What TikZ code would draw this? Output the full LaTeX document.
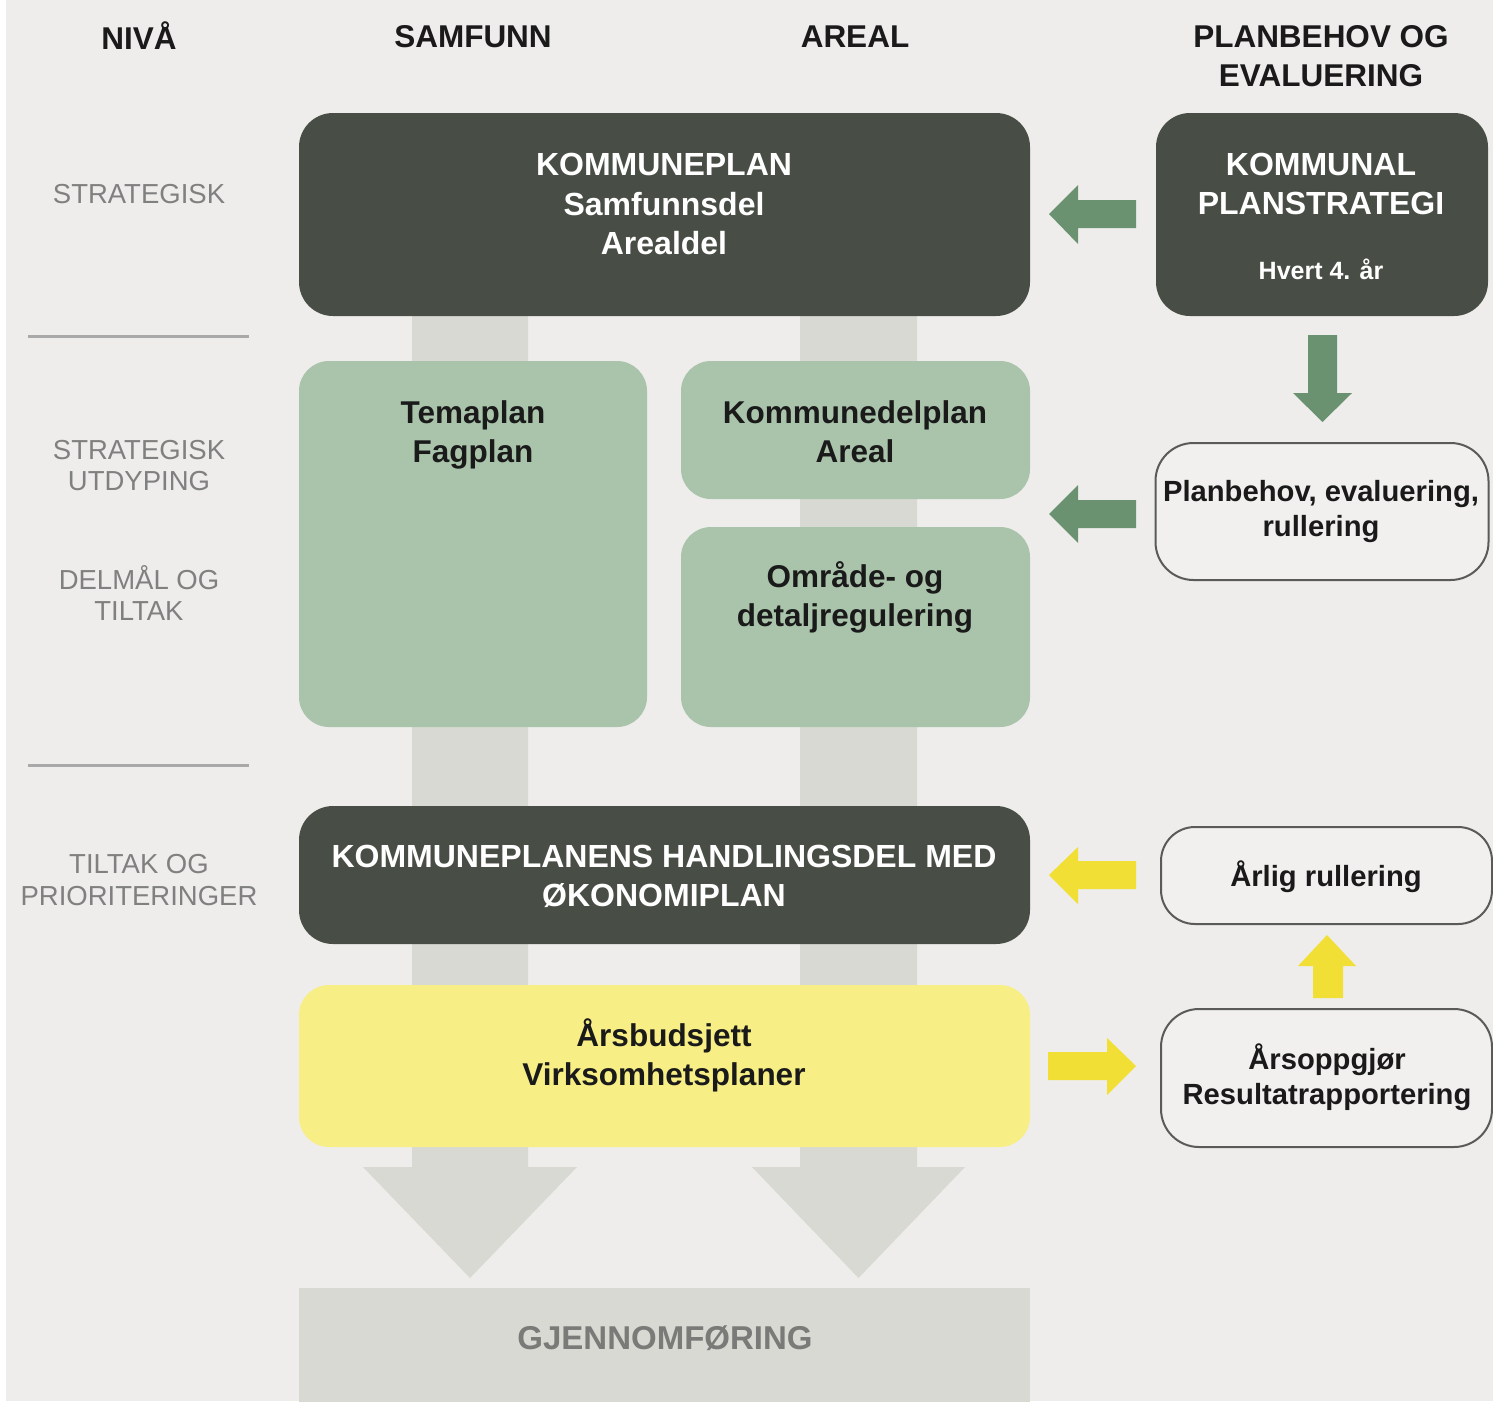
\documentclass[tikz,border=0pt]{standalone}
\usepackage{fontspec}
\setmainfont{Liberation Sans}
\definecolor{cbg}{HTML}{EEEDEB}
\definecolor{cdark}{HTML}{484E45}
\definecolor{clight}{HTML}{AAC4AB}
\definecolor{cbar}{HTML}{D8D9D2}
\definecolor{cyelbox}{HTML}{F7EE85}
\definecolor{cyelarr}{HTML}{F2DF35}
\definecolor{cgrnarr}{HTML}{6A9271}
\definecolor{clvl}{HTML}{808080}
\definecolor{cline}{HTML}{A9A9A9}
\definecolor{coutline}{HTML}{5A5A58}
\definecolor{cgjtxt}{HTML}{7A7A78}
\definecolor{ctxt}{HTML}{1A1A1A}
\tikzset{
  boxbase/.style={rectangle, inner sep=0pt, outer sep=0pt},
  darkbox/.style={boxbase, fill=cdark, rounded corners=34},
  lightbox/.style={boxbase, fill=clight, rounded corners=30},
  yelbox/.style={boxbase, fill=cyelbox, rounded corners=30},
  outbox/.style={boxbase, fill=cbg!85!white, draw=coutline, line width=2pt, rounded corners=38},
  hdr/.style={font=\fontsize{31.5}{39}\selectfont\bfseries, text=ctxt, align=center, inner sep=0pt},
  lvl/.style={font=\fontsize{27.5}{31.5}\selectfont, text=clvl, align=center, inner sep=0pt},
  wtxt/.style={font=\fontsize{32}{39.5}\selectfont\bfseries, text=white, align=center, inner sep=0pt},
  btxt/.style={font=\fontsize{31.5}{39.5}\selectfont\bfseries, text=ctxt, align=center, inner sep=0pt},
  stxt/.style={font=\fontsize{29.2}{35}\selectfont\bfseries, text=ctxt, align=center, inner sep=0pt},
  grnarrow/.style={fill=cgrnarr},
  yelarrow/.style={fill=cyelarr},
  divline/.style={draw=cline, line width=3pt}
}
\begin{document}
\begin{tikzpicture}[x=1pt,y=-1pt]
\useasboundingbox (0,0) rectangle (1493,1401);
\fill[white] (0,0) rectangle (1493,1401);
\fill[cbg] (6,0) rectangle (1493,1401);

% column bars with arrowheads
\fill[cbar] (412,316) -- (528,316) -- (528,1167) -- (577,1167) -- (470,1278) -- (363,1167) -- (412,1167) -- cycle;
\fill[cbar] (800,316) -- (917,316) -- (917,1167) -- (965,1167) -- (858.5,1278) -- (752,1167) -- (800,1167) -- cycle;
\node[boxbase, fill=cbar, minimum width=731, minimum height=125, anchor=north west] (gj) at (299,1288) {};
\node[font=\fontsize{33}{40}\selectfont\bfseries, text=cgjtxt, inner sep=0pt] (gjt) at (665,1338) {GJENNOMFØRING};

% headers
\node[hdr] (hniva) at (139,35.5) {NIVÅ};
\node[hdr] (hsam) at (473,37) {SAMFUNN};
\node[hdr] (hareal) at (855,37) {AREAL};
\node[hdr] (hplan) at (1321,56.5) {PLANBEHOV OG\\EVALUERING};

% level labels
\node[lvl] (l1) at (139,194) {STRATEGISK};
\coordinate (d1a) at (28,336); \coordinate (d1b) at (249,336);
\draw[divline] (d1a) -- (d1b);
\node[lvl] (l2) at (139,465.5) {STRATEGISK\\UTDYPING};
\node[lvl] (l3) at (139,593) {DELMÅL OG\\TILTAK};
\coordinate (d2a) at (28,765); \coordinate (d2b) at (249,765);
\draw[divline] (d2a) -- (d2b);
\node[lvl] (l4) at (139,880) {TILTAK OG\\PRIORITERINGER};

% main boxes
\node[darkbox, minimum width=731, minimum height=203] (kp) at (664.5,214.5) {};
\node[wtxt] (kpt) at (664,204) {KOMMUNEPLAN\\Samfunnsdel\\Arealdel};

\node[darkbox, minimum width=332, minimum height=203] (kps) at (1322,214.5) {};
\node[wtxt] (kpst) at (1321,184) {KOMMUNAL\\PLANSTRATEGI};
\node[font=\fontsize{25}{30}\selectfont\bfseries, text=white, inner sep=0pt] (kpsh) at (1321,269) {Hvert 4. år};

\node[lightbox, minimum width=348, minimum height=366] (tema) at (473,544) {};
\node[btxt] (temat) at (473,435) {Temaplan\\Fagplan};

\node[lightbox, minimum width=349, minimum height=138] (kdp) at (855.5,430) {};
\node[btxt] (kdpt) at (855,431.5) {Kommunedelplan\\Areal};

\node[lightbox, minimum width=349, minimum height=200] (omr) at (855.5,627) {};
\node[btxt] (omrt) at (855,597.5) {Område- og\\detaljregulering};

\node[darkbox, minimum width=731, minimum height=138] (hd) at (664.5,875) {};
\node[wtxt] (hdt) at (664,876.5) {KOMMUNEPLANENS HANDLINGSDEL MED\\ØKONOMIPLAN};

\node[yelbox, minimum width=731, minimum height=162] (yb) at (664.5,1066) {};
\node[btxt] (ybt) at (664,1055.5) {Årsbudsjett\\Virksomhetsplaner};

% right column outline boxes
\node[outbox, minimum width=333, minimum height=137] (pb) at (1322,511.5) {};
\node[stxt] (pbt) at (1321,512) {Planbehov, evaluering,\\rullering};

\node[outbox, minimum width=331, minimum height=97, rounded corners=34] (ar) at (1326.5,875.5) {};
\node[stxt] (art) at (1326,877) {Årlig rullering};

\node[outbox, minimum width=331, minimum height=138] (ao) at (1326.5,1078) {};
\node[stxt] (aot) at (1327,1077) {Årsoppgjør\\Resultatrapportering};

% block arrows
\fill[grnarrow] (1136,200) -- (1078,200) -- (1078,185) -- (1049,214) -- (1078,244) -- (1078,228) -- (1136,228) -- cycle;
\fill[grnarrow] (1136,500) -- (1078,500) -- (1078,485) -- (1049,514) -- (1078,543) -- (1078,528) -- (1136,528) -- cycle;
\fill[grnarrow] (1308,335) -- (1337,335) -- (1337,393) -- (1352,393) -- (1322.5,422) -- (1293,393) -- (1308,393) -- cycle;
\fill[yelarrow] (1136,861) -- (1078,861) -- (1078,847) -- (1049,875) -- (1078,904) -- (1078,889) -- (1136,889) -- cycle;
\fill[yelarrow] (1048,1052) -- (1107,1052) -- (1107,1038) -- (1136,1066) -- (1107,1095) -- (1107,1080) -- (1048,1080) -- cycle;
\fill[yelarrow] (1313,998) -- (1313,966) -- (1298,966) -- (1327,935) -- (1356,966) -- (1343,966) -- (1343,998) -- cycle;
\end{tikzpicture}
\end{document}
